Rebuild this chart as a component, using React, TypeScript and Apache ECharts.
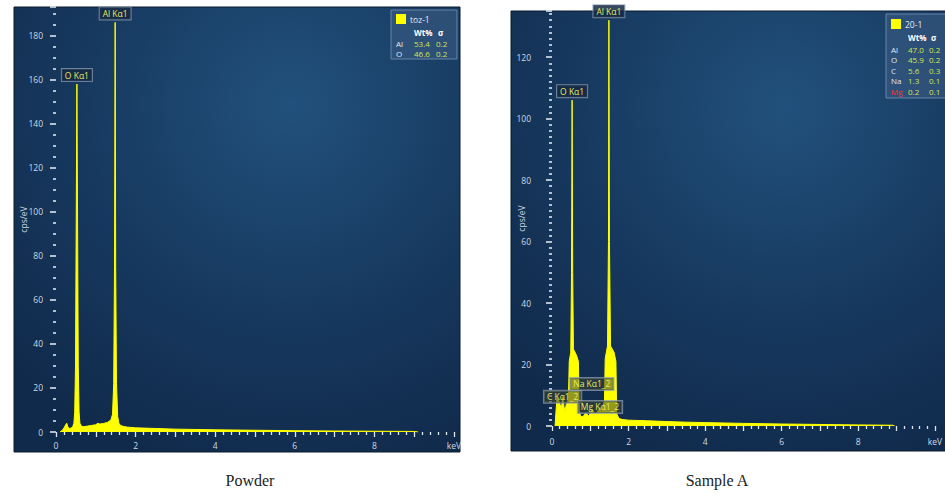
import React, { useEffect, useRef } from 'react';
import * as echarts from 'echarts';

// ---- Spectrum data (keV, cps/eV) ----
const powderKeV = [0.10, 0.15, 0.20, 0.24, 0.27, 0.30, 0.34, 0.38, 0.42, 0.45, 0.47, 0.49, 0.505, 0.525, 0.545, 0.56, 0.58, 0.60, 0.64, 0.70, 0.80, 0.90, 1.00, 1.05, 1.10, 1.20, 1.30, 1.38, 1.42, 1.45, 1.47, 1.486, 1.50, 1.52, 1.55, 1.58, 1.62, 1.70, 1.80, 2.00, 2.50, 3.00, 3.50, 4.00, 5.00, 6.00, 7.00, 8.00, 9.00, 9.10];
const powderCps = [0, 0.6, 1.8, 3.2, 4.0, 2.2, 1.6, 1.8, 2.4, 4, 9, 30, 85, 158, 85, 30, 9, 4, 2.6, 2.4, 2.7, 3.0, 3.3, 4.0, 3.6, 3.9, 4.4, 5.5, 8, 22, 75, 186, 75, 22, 7, 4, 3, 2.5, 2.2, 1.9, 1.6, 1.3, 1.15, 1.0, 0.8, 0.6, 0.45, 0.35, 0.25, 0];

const sampleKeV = [0.08, 0.10, 0.13, 0.17, 0.21, 0.25, 0.277, 0.31, 0.34, 0.37, 0.40, 0.43, 0.45, 0.49, 0.51, 0.525, 0.54, 0.56, 0.64, 0.69, 0.71, 0.75, 0.82, 0.88, 0.95, 1.00, 1.041, 1.08, 1.13, 1.18, 1.22, 1.254, 1.29, 1.33, 1.37, 1.39, 1.45, 1.475, 1.486, 1.50, 1.53, 1.62, 1.67, 1.69, 1.75, 1.85, 2.00, 2.50, 3.00, 3.50, 4.00, 5.00, 6.00, 7.00, 8.00, 8.90, 8.95];
const sampleCps = [0, 4, 9, 8.5, 7, 6, 9.5, 6.5, 4.5, 7, 7.5, 9, 21, 24, 50, 106, 50, 25, 23, 21, 5, 3, 3.2, 4.2, 3.4, 4.0, 5.5, 4.8, 3.8, 4.6, 5.2, 6, 4.2, 6.5, 8, 22, 26, 60, 132, 60, 26, 24, 21, 4, 2.4, 2.1, 1.9, 1.7, 1.45, 1.25, 1.1, 0.85, 0.65, 0.5, 0.35, 0.25, 0];

// ---- Peak annotations ----
const powderPeakNames = ['O Kα1', 'Al Kα1'];
const powderPeakKeV = [0.525, 1.486];
const powderPeakCps = [158, 186];
const samplePeakNames = ['O Kα1', 'Al Kα1'];
const samplePeakKeV = [0.525, 1.486];
const samplePeakCps = [106, 132];
const sampleMinorNames = ['C Kα1_2', 'Na Kα1_2', 'Mg Kα1_2'];
const sampleMinorKeV = [0.277, 1.041, 1.254];
const sampleMinorCps = [9.5, 13.7, 6.2];

// ---- Legend tables ----
const powderLegendTitle = 'toz-1';
const powderElements = ['Al', 'O'];
const powderWt = ['53.4', '46.6'];
const powderSigma = ['0.2', '0.2'];
const sampleLegendTitle = '20-1';
const sampleElements = ['Al', 'O', 'C', 'Na', 'Mg'];
const sampleWt = ['47.0', '45.9', '5.6', '1.3', '0.2'];
const sampleSigma = ['0.2', '0.2', '0.3', '0.1', '0.1'];
const sampleRedRow = 4;

const captions = ['Powder', 'Sample A'];
const yAxisName = 'cps/eV';
const xUnit = 'keV';

const FONT = '"Open Sans", "Noto Sans", sans-serif';
const TICK_COLOR = '#dfe5ec';
const LABEL_COLOR = '#d2d9e3';
const YELLOW = '#ffff00';

function zip(xs: number[], ys: number[]) {
  return xs.map((x, i) => [x, ys[i]]);
}

function makeX(gridIndex: number, offset: number) {
  return {
    type: 'value', gridIndex, min: 0, max: 10, interval: 1, offset,
    axisLine: { show: false },
    splitLine: { show: false },
    axisTick: { show: true, length: 5, lineStyle: { color: TICK_COLOR, width: 1.3 } },
    minorTick: { show: true, splitNumber: 5, length: 3, lineStyle: { color: TICK_COLOR, width: 1.3 } },
    minorSplitLine: { show: false },
    axisLabel: {
      color: LABEL_COLOR, fontSize: 8.5, fontFamily: FONT, margin: 8,
      formatter: (v: number) => (v === 10 ? xUnit : v % 2 === 0 ? String(v) : ''),
    },
  };
}

function makeY(gridIndex: number, max: number, minorSplit: number, offset: number, margin: number, nameGap: number) {
  return {
    type: 'value', gridIndex, min: 0, max, interval: 20, offset,
    name: yAxisName, nameLocation: 'middle', nameGap, nameMoveOverlap: false,
    nameTextStyle: { color: LABEL_COLOR, fontSize: 8.5, fontFamily: FONT },
    axisLine: { show: false },
    splitLine: { show: false },
    axisTick: { show: true, length: 6, lineStyle: { color: TICK_COLOR, width: 1.6 } },
    minorTick: { show: true, splitNumber: minorSplit, length: 3, lineStyle: { color: TICK_COLOR, width: 1.6 } },
    minorSplitLine: { show: false },
    axisLabel: {
      color: LABEL_COLOR, fontSize: 8.5, fontFamily: FONT, margin, showMaxLabel: false,
      formatter: (v: number) => (v % 20 === 0 ? String(v) : ''),
    },
  };
}

const peakLabel = {
  show: true, position: 'top', distance: 3, formatter: '{b}',
  color: '#e6e86a', fontSize: 8.5, fontFamily: FONT,
  backgroundColor: 'rgba(22,42,66,0.85)', borderColor: 'rgba(140,158,180,0.75)', borderWidth: 1,
  padding: [2, 3, 1, 3],
};

function legendGroup(
  bx: number, by: number, bw: number, bh: number, title: string,
  els: string[], wt: string[], sig: string[],
  colName: number, colVal: number, colSig: number, titleY: number, headerY: number, rowY0: number, rowStep: number,
  redRow: number,
) {
  const children: any[] = [
    { type: 'rect', shape: { x: bx, y: by, width: bw, height: bh }, style: { fill: 'rgba(58,92,132,0.6)', stroke: 'rgba(120,148,182,0.8)', lineWidth: 1 } },
    { type: 'rect', shape: { x: colName, y: titleY - 5, width: 10, height: 10 }, style: { fill: YELLOW } },
    { type: 'text', style: { text: title, x: colName + 14, y: titleY, verticalAlign: 'middle', fill: '#e4e9f0', font: `8.5px ${FONT}` } },
    { type: 'text', style: { text: 'Wt%', x: colVal, y: headerY, verticalAlign: 'middle', fill: '#ffffff', font: `bold 8px ${FONT}` } },
    { type: 'text', style: { text: 'σ', x: colSig + 2, y: headerY, verticalAlign: 'middle', fill: '#ffffff', font: `bold 8px ${FONT}` } },
  ];
  els.forEach((e, i) => {
    const y = rowY0 + i * rowStep;
    children.push({ type: 'text', style: { text: e, x: colName, y, verticalAlign: 'middle', fill: i === redRow ? '#ff3030' : '#e4e9f0', font: `8px ${FONT}` } });
    children.push({ type: 'text', style: { text: wt[i], x: colVal, y, verticalAlign: 'middle', fill: '#d2e64c', font: `8px ${FONT}` } });
    children.push({ type: 'text', style: { text: sig[i], x: colSig, y, verticalAlign: 'middle', fill: '#d2e64c', font: `8px ${FONT}` } });
  });
  return { type: 'group', z: 100, children };
}

function panelBg(x: number, y: number, w: number, h: number) {
  return {
    type: 'rect', z: -10,
    shape: { x, y, width: w, height: h },
    style: {
      fill: new echarts.graphic.RadialGradient(0.62, 0.22, 0.85, [
        { offset: 0, color: '#21517c' },
        { offset: 0.55, color: '#17395f' },
        { offset: 1, color: '#102a4b' },
      ]),
      stroke: '#0b1a2c', lineWidth: 1,
    },
  };
}

export default function App() {
  const ref = useRef<HTMLDivElement>(null);
  useEffect(() => {
    const chart = echarts.init(ref.current!, null, { renderer: 'svg', width: 945, height: 494 });
    const option: any = {
      animation: false,
      backgroundColor: '#ffffff',
      grid: [
        { left: 56, top: 7, width: 398, height: 425 },
        { left: 552, top: 11, width: 389, height: 415 },
      ],
      xAxis: [makeX(0, 1), makeX(1, 3)],
      yAxis: [makeY(0, 193, 4, 6, 7, 22), makeY(1, 135, 10, 15, 6, 11)],
      series: [
        {
          type: 'line', xAxisIndex: 0, yAxisIndex: 0, data: zip(powderKeV, powderCps),
          showSymbol: false, symbol: 'none',
          lineStyle: { color: YELLOW, width: 1 }, areaStyle: { color: YELLOW, opacity: 1 },
          markPoint: {
            symbol: 'circle', symbolSize: 0, label: peakLabel,
            data: powderPeakNames.map((n, i) => ({ name: n, coord: [powderPeakKeV[i], powderPeakCps[i]] })),
          },
        },
        {
          type: 'line', xAxisIndex: 1, yAxisIndex: 1, data: zip(sampleKeV, sampleCps),
          showSymbol: false, symbol: 'none',
          lineStyle: { color: YELLOW, width: 1 }, areaStyle: { color: YELLOW, opacity: 1 },
          markPoint: {
            symbol: 'circle', symbolSize: 0, label: peakLabel,
            data: [
              ...samplePeakNames.map((n, i) => ({ name: n, coord: [samplePeakKeV[i], samplePeakCps[i]] })),
              ...sampleMinorNames.map((n, i) => ({
                name: n, coord: [sampleMinorKeV[i], sampleMinorCps[i]],
                label: { ...peakLabel, position: 'inside', backgroundColor: 'rgba(60,70,50,0.55)' },
              })),
            ],
          },
        },
      ],
      graphic: [
        panelBg(14, 7, 446, 445),
        panelBg(511, 11, 440, 440),
        legendGroup(391, 10, 66, 49, powderLegendTitle, powderElements, powderWt, powderSigma, 396, 414, 436, 19, 32, 43, 10, -1),
        legendGroup(886, 14, 64, 84, sampleLegendTitle, sampleElements, sampleWt, sampleSigma, 891, 908, 929, 24, 37, 49, 10.5, sampleRedRow),
        { type: 'text', z: 100, style: { text: captions[0], x: 250, y: 480, align: 'center', verticalAlign: 'middle', fill: '#222', font: `16px "Liberation Serif", serif` } },
        { type: 'text', z: 100, style: { text: captions[1], x: 717, y: 480, align: 'center', verticalAlign: 'middle', fill: '#222', font: `16px "Liberation Serif", serif` } },
      ],
    };
    chart.setOption(option);
    return () => chart.dispose();
  }, []);
  return <div ref={ref} style={{ position: 'absolute', left: 0, top: 0, width: 945, height: 494, background: '#fff' }} />;
}
